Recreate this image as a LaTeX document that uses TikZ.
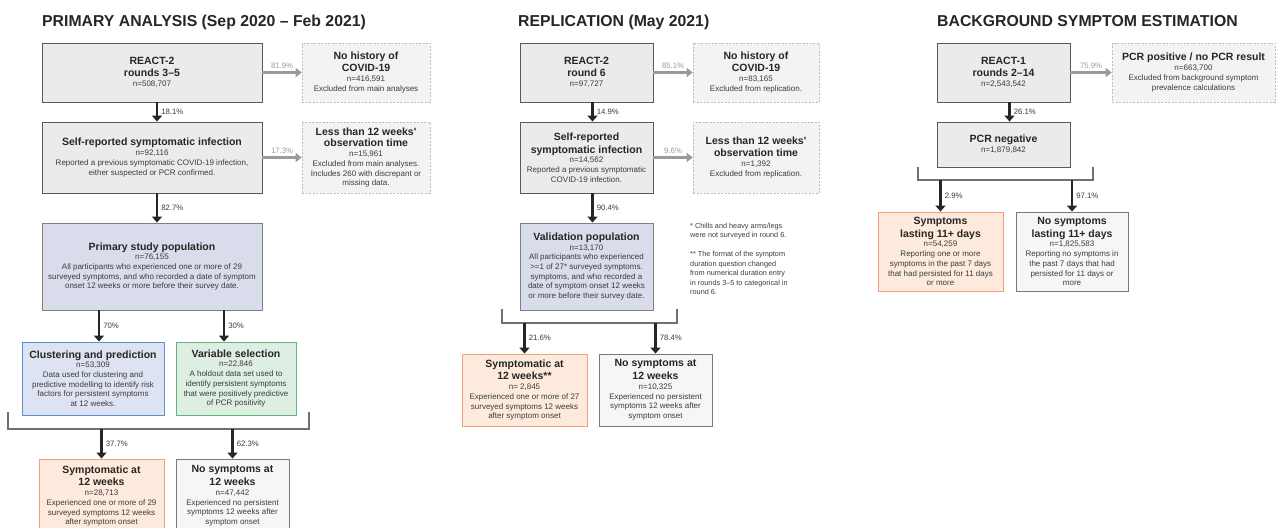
\documentclass[tikz,border=0pt]{standalone}
\usepackage{fontspec}
\setmainfont{Liberation Sans}[Ligatures=TeXOff]
\usetikzlibrary{arrows.meta}

\definecolor{txtdark}{HTML}{262626}
\definecolor{txtbody}{HTML}{3C3C3C}
\definecolor{greyfill}{HTML}{EBEBEB}
\definecolor{greyedge}{HTML}{5A5A5A}
\definecolor{exclfill}{HTML}{F3F3F3}
\definecolor{excledge}{HTML}{BDBDBD}
\definecolor{popfill}{HTML}{D9DCEA}
\definecolor{popedge}{HTML}{808080}
\definecolor{clustfill}{HTML}{DEE3F3}
\definecolor{clustedge}{HTML}{5B8FD6}
\definecolor{selfill}{HTML}{DFEEE2}
\definecolor{seledge}{HTML}{5DB77B}
\definecolor{sympfill}{HTML}{FDEADC}
\definecolor{sympedge}{HTML}{F2A07A}
\definecolor{nosympfill}{HTML}{F5F7F6}
\definecolor{nosympedge}{HTML}{7A7A7A}
\definecolor{arrgrey}{HTML}{9A9A9A}
\definecolor{brackgrey}{HTML}{707070}

\newcommand{\boxhead}[1]{{\fontsize{10.5}{13}\selectfont\bfseries\color{txtdark}#1}}

\begin{document}
\begin{tikzpicture}[x=1pt, y=-1pt,
    every node/.style={font=\fontsize{8}{9.7}\selectfont, text=txtbody},
    flowbox/.style={draw, align=center, inner sep=2pt, line width=0.9pt},
    mainbox/.style={flowbox, fill=greyfill, draw=greyedge},
    exclbox/.style={flowbox, fill=exclfill, draw=excledge, dash pattern=on 2pt off 1.5pt, line width=0.6pt},
    popbox/.style={flowbox, fill=popfill, draw=popedge},
    clustbox/.style={flowbox, fill=clustfill, draw=clustedge},
    selbox/.style={flowbox, fill=selfill, draw=seledge},
    sympbox/.style={flowbox, fill=sympfill, draw=sympedge},
    nosympbox/.style={flowbox, fill=nosympfill, draw=nosympedge},
    flow/.style={line width=2.6pt, draw=black!85, -{Triangle[width=10pt,length=6pt]}},
    excl/.style={line width=2.6pt, draw=arrgrey, -{Triangle[width=9pt,length=6pt]}},
    pct/.style={font=\fontsize{7.8}{9}\selectfont, inner sep=3pt},
    bracket/.style={line width=1.3pt, draw=brackgrey},
    paneltitle/.style={font=\fontsize{15.8}{18}\selectfont\bfseries, text=txtdark, anchor=base west, inner sep=0pt}]

    \clip (0,0) rectangle (1276,527);
    \fill[white] (0,0) rectangle (1276,527);

    % Primary analysis
    \node[paneltitle] (t1) at (42,27) {PRIMARY ANALYSIS (Sep 2020 – Feb 2021)};
    \node[mainbox, minimum width=220pt, minimum height=59pt] (r2) at (152,72.5) {\boxhead{REACT-2}\\[2pt]\boxhead{rounds 3–5}\\n=508,707};
    \node[exclbox, minimum width=128pt, minimum height=59pt] (nohist) at (366,72.5) {\boxhead{No history of}\\[2pt]\boxhead{COVID-19}\\n=416,591\\Excluded from main analyses};
    \node[mainbox, minimum width=220pt, minimum height=71pt] (selfrep) at (152,157.5) {\boxhead{Self-reported symptomatic infection}\\n=92,116\\Reported a previous symptomatic COVID-19 infection,\\either suspected or PCR confirmed.};
    \node[exclbox, minimum width=128pt, minimum height=71pt] (less) at (366,157.5) {\boxhead{Less than 12 weeks'}\\[2pt]\boxhead{observation time}\\n=15,961\\Excluded from main analyses.\\Includes 260 with discrepant or\\missing data.};
    \node[popbox, minimum width=220pt, minimum height=87pt] (primpop) at (152,266.5) {\boxhead{Primary study population}\\n=76,155\\All participants who experienced one or more of 29\\surveyed symptoms, and who recorded a date of symptom\\onset 12 weeks or more before their survey date.};
    \node[clustbox, minimum width=142pt, minimum height=73pt] (clust) at (93,378.5) {\boxhead{Clustering and prediction}\\n=53,309\\Data used for clustering and\\predictive modelling to identify risk\\factors for persistent symptoms\\at 12 weeks.};
    \node[selbox, minimum width=120pt, minimum height=73pt] (varsel) at (236,378.5) {\boxhead{Variable selection}\\n=22,846\\A holdout data set used to\\identify persistent symptoms\\that were positively predictive\\of PCR positivity};
    \node[sympbox, minimum width=125pt, minimum height=74pt] (symp) at (101.5,496) {\boxhead{Symptomatic at}\\[2pt]\boxhead{12 weeks}\\n=28,713\\Experienced one or more of 29\\surveyed symptoms 12 weeks\\after symptom onset};
    \node[nosympbox, minimum width=113pt, minimum height=74pt] (nosymp) at (232.5,496) {\boxhead{No symptoms at}\\[2pt]\boxhead{12 weeks}\\n=47,442\\Experienced no persistent\\symptoms 12 weeks after\\symptom onset};

    \draw[excl] (r2) -- (nohist) node[pct, midway, above, text=arrgrey] {81.9\%};
    \draw[excl] (selfrep) -- (less) node[pct, midway, above, text=arrgrey] {17.3\%};
    \draw[flow] ([xshift=5pt]r2.south) -- ([xshift=5pt]selfrep.north) node[pct, midway, right] {18.1\%};
    \draw[flow] ([xshift=5pt]selfrep.south) -- ([xshift=5pt]primpop.north) node[pct, midway, right] {82.7\%};
    \draw[flow] ([xshift=6pt]clust.north |- primpop.south) -- ([xshift=6pt]clust.north) node[pct, midway, right] {70\%};
    \draw[flow] ([xshift=-12pt]varsel.north |- primpop.south) -- ([xshift=-12pt]varsel.north) node[pct, midway, right] {30\%};

    \coordinate (b1l) at (8,429);
    \coordinate (b1r) at (309,429);
    \draw[bracket] (8,412) -- (b1l) -- (b1r) -- (309,412);
    \draw[flow] (symp.north |- b1l) -- (symp.north) node[pct, midway, right] {37.7\%};
    \draw[flow] (nosymp.north |- b1l) -- (nosymp.north) node[pct, midway, right] {62.3\%};

    % Replication
    \node[paneltitle] (t2) at (518,27) {REPLICATION (May 2021)};
    \node[mainbox, minimum width=133pt, minimum height=59pt] (r6) at (586.5,72.5) {\boxhead{REACT-2}\\[2pt]\boxhead{round 6}\\n=97,727};
    \node[exclbox, minimum width=126pt, minimum height=59pt] (nohistb) at (756,72.5) {\boxhead{No history of}\\[2pt]\boxhead{COVID-19}\\n=83,165\\Excluded from replication.};
    \node[mainbox, minimum width=133pt, minimum height=71pt] (selfrepb) at (586.5,157.5) {\boxhead{Self-reported}\\[2pt]\boxhead{symptomatic infection}\\n=14,562\\Reported a previous symptomatic\\COVID-19 infection.};
    \node[exclbox, minimum width=126pt, minimum height=71pt] (lessb) at (756,157.5) {\boxhead{Less than 12 weeks'}\\[2pt]\boxhead{observation time}\\n=1,392\\Excluded from replication.};
    \node[popbox, minimum width=133pt, minimum height=87pt] (valpop) at (586.5,266.5) {\boxhead{Validation population}\\n=13,170\\All participants who experienced\\>=1 of 27* surveyed symptoms.\\symptoms, and who recorded a\\date of symptom onset 12 weeks\\or more before their survey date.};
    \node[anchor=north west, align=left, inner sep=0pt, font=\fontsize{7.3}{9.5}\selectfont] (notes) at (690,223) {* Chills and heavy arms/legs\\were not surveyed in round 6.\\[9.5pt]** The format of the symptom\\duration question changed\\from numerical duration entry\\in rounds 3–5 to categorical in\\round 6.};
    \node[sympbox, minimum width=125pt, minimum height=72pt] (sympb) at (524.5,390) {\boxhead{Symptomatic at}\\[2pt]\boxhead{12 weeks**}\\n= 2,845\\Experienced one or more of 27\\surveyed symptoms 12 weeks\\after symptom onset};
    \node[nosympbox, minimum width=113pt, minimum height=72pt] (nosympb) at (655.5,390) {\boxhead{No symptoms at}\\[2pt]\boxhead{12 weeks}\\n=10,325\\Experienced no persistent\\symptoms 12 weeks after\\symptom onset};

    \draw[excl] (r6) -- (nohistb) node[pct, midway, above, text=arrgrey] {85.1\%};
    \draw[excl] (selfrepb) -- (lessb) node[pct, midway, above, text=arrgrey] {9.6\%};
    \draw[flow] ([xshift=6pt]r6.south) -- ([xshift=6pt]selfrepb.north) node[pct, midway, right] {14.9\%};
    \draw[flow] ([xshift=6pt]selfrepb.south) -- ([xshift=6pt]valpop.north) node[pct, midway, right] {90.4\%};

    \coordinate (b2l) at (502,323);
    \coordinate (b2r) at (677,323);
    \draw[bracket] (502,309) -- (b2l) -- (b2r) -- (677,309);
    \draw[flow] (sympb.north |- b2l) -- (sympb.north) node[pct, midway, right] {21.6\%};
    \draw[flow] (nosympb.north |- b2l) -- (nosympb.north) node[pct, midway, right] {78.4\%};

    % Background symptom estimation
    \node[paneltitle] (t3) at (937,27) {BACKGROUND SYMPTOM ESTIMATION};
    \node[mainbox, minimum width=133pt, minimum height=59pt] (r1) at (1003.5,72.5) {\boxhead{REACT-1}\\[2pt]\boxhead{rounds 2–14}\\n=2,543,542};
    \node[exclbox, minimum width=163pt, minimum height=59pt] (pcrpos) at (1193.5,72.5) {\boxhead{PCR positive / no PCR result}\\n=663,700\\Excluded from background symptom\\prevalence calculations};
    \node[mainbox, minimum width=133pt, minimum height=45pt] (pcrneg) at (1003.5,144.5) {\boxhead{PCR negative}\\n=1,879,842};
    \node[sympbox, minimum width=125pt, minimum height=79pt] (sympc) at (940.5,251.5) {\boxhead{Symptoms}\\[2pt]\boxhead{lasting 11+ days}\\n=54,259\\Reporting one or more\\symptoms in the past 7 days\\that had persisted for 11 days\\or more};
    \node[nosympbox, minimum width=112pt, minimum height=79pt] (nosympc) at (1072,251.5) {\boxhead{No symptoms}\\[2pt]\boxhead{lasting 11+ days}\\n=1,825,583\\Reporting no symptoms in\\the past 7 days that had\\persisted for 11 days or\\more};

    \draw[excl] (r1) -- (pcrpos) node[pct, midway, above, text=arrgrey] {75.9\%};
    \draw[flow] ([xshift=6pt]r1.south) -- ([xshift=6pt]pcrneg.north) node[pct, midway, right] {26.1\%};

    \coordinate (b3l) at (918,180);
    \coordinate (b3r) at (1093,180);
    \draw[bracket] (918,167) -- (b3l) -- (b3r) -- (1093,167);
    \draw[flow] (sympc.north |- b3l) -- (sympc.north) node[pct, midway, right] {2.9\%};
    \draw[flow] (nosympc.north |- b3l) -- (nosympc.north) node[pct, midway, right] {97.1\%};
\end{tikzpicture}
\end{document}
